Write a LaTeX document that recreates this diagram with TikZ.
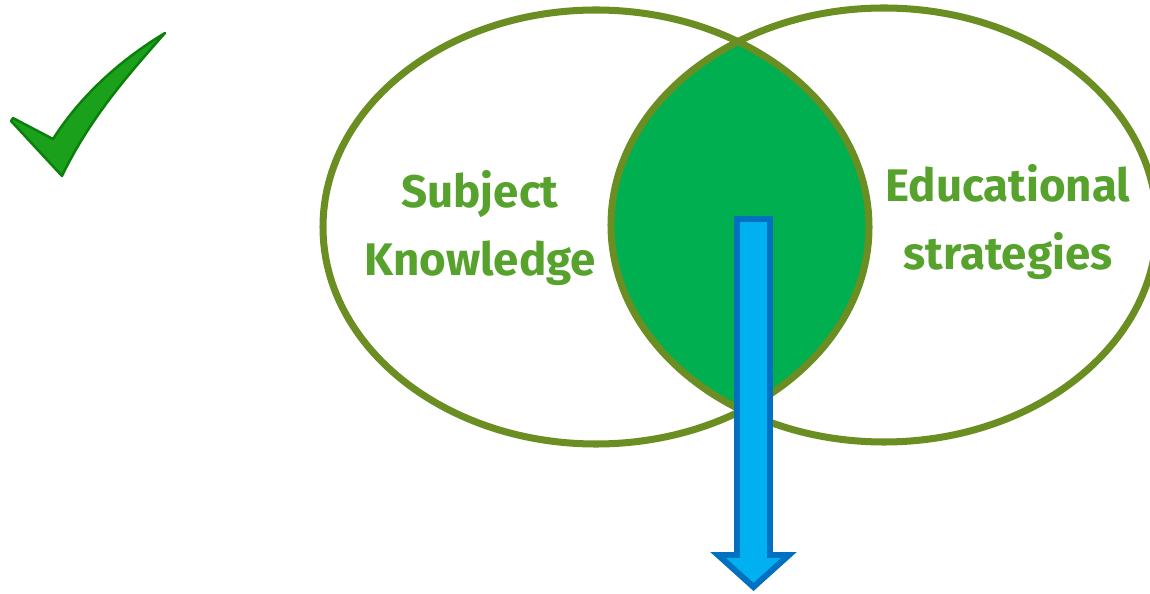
\documentclass[tikz,border=0pt]{standalone}
\usepackage{fontspec}
\setmainfont{Fira Sans}
\usepackage{xcolor}
\usepackage{tikz}

\definecolor{rimgreen}{HTML}{6B8E23}
\definecolor{lensgreen}{HTML}{00B050}
\definecolor{labelgreen}{HTML}{56A22D}
\definecolor{arrowfill}{HTML}{00B0F0}
\definecolor{arrowrim}{HTML}{0070C0}
\definecolor{tickfill}{HTML}{1BA01B}
\definecolor{tickrim}{HTML}{0B7F0B}

\begin{document}
\begin{tikzpicture}[x=0.02cm,y=-0.02cm,
  rim/.style={draw=rimgreen,line width=4pt},
  label/.style={text=labelgreen,align=center,
    font=\bfseries\fontsize{26}{38.5}\selectfont}]
\useasboundingbox (0,0) rectangle (1150,594);
\clip (0,0) rectangle (1150,594);

% tick mark
\draw[tickrim,fill=tickfill,line width=1.4pt,line join=round]
  (13,118) -- (53,139) .. controls (83,92) and (125,57) .. (165,33)
  .. controls (128,75) and (90,118) .. (62,176) -- (11,121) -- cycle;

% overlap of the two sets
\begin{scope}
  \clip (596,227) ellipse [x radius=273, y radius=217];
  \fill[lensgreen] (884,225) ellipse [x radius=273, y radius=217];
\end{scope}
\draw[rim] (596,227) ellipse [x radius=273, y radius=217];
\draw[rim] (884,225) ellipse [x radius=273, y radius=217];

\node[label] (subject) at (480,228) {Subject\\Knowledge};
\node[label] (strategies) at (1008,222) {Educational\\strategies};

% downward arrow out of the overlap
\draw[arrowrim,fill=arrowfill,line width=3.4pt]
  (737,219) -- (770,219) -- (770,555) -- (789,555) -- (753.5,587)
  -- (718,555) -- (737,555) -- cycle;
\end{tikzpicture}
\end{document}
